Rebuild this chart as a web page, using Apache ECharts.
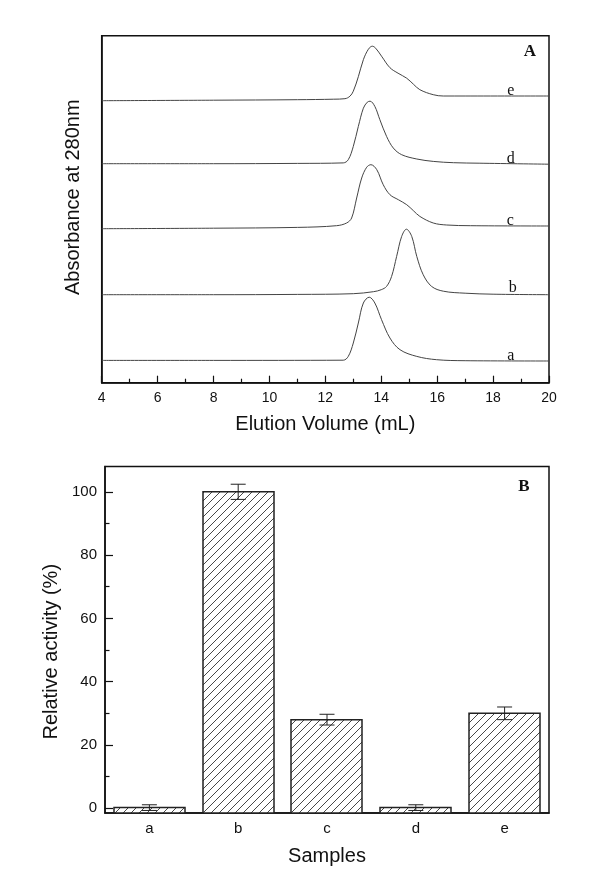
<!DOCTYPE html>
<html>
<head>
<meta charset="utf-8">
<script src="https://cdn.jsdelivr.net/npm/echarts@6/dist/echarts.min.js"></script>
<style>html,body{margin:0;padding:0;background:#fff}#c{width:600px;height:878px}</style>
</head>
<body>
<div id="c"></div>
<script>
// ---- Panel A: elution profiles (x = mL, y = absorbance, arbitrary offset units) ----
const elutionTicks = [4, 6, 8, 10, 12, 14, 16, 18, 20];
const curveA = [[4,22.3],[8,22.3],[12.64,22.5],[12.82,26.3],[13.0,39.7],[13.18,59.7],[13.36,79.7],[13.57,85.5],[13.77,79.7],[14.01,63],[14.31,44.7],[14.67,33],[15.27,26.3],[15.98,23],[17,22],[20,21.7]];
const curveB = [[4,88],[8,88],[11,88.3],[13.0,89],[13.72,91],[14.0,93],[14.19,96.3],[14.37,106.3],[14.55,126.3],[14.73,146.3],[14.9,153.5],[15.09,146.3],[15.27,126.3],[15.5,108],[15.8,96.3],[16.22,91.5],[17,89.5],[18,88.5],[20,88]];
const curveC = [[4,154],[8,154.5],[11,155.3],[12.4,157],[12.76,159.7],[12.94,164.7],[13.12,184.7],[13.3,204.7],[13.48,215.5],[13.63,218],[13.84,213],[14.07,198],[14.31,188],[14.61,183],[14.91,178],[15.15,172],[15.38,166.3],[15.86,159.7],[16.34,157.7],[17.2,157],[20,156.7]];
const curveD = [[4,219],[8,219],[11,219.3],[12.64,219.8],[12.82,223],[13.0,236.3],[13.18,256.3],[13.36,274.5],[13.5,280.5],[13.6,281.5],[13.77,276.3],[13.95,263],[14.19,246.3],[14.43,234.7],[14.73,228],[15.27,223.7],[15.86,221.3],[16.58,220],[17.5,219.5],[20,218.5]];
const curveE = [[4,282],[8,282.5],[11,283],[12.3,283.5],[12.7,284],[12.88,286.5],[13.0,291.5],[13.18,306],[13.36,323],[13.54,333.5],[13.68,336.5],[13.8,334.5],[14.01,326.5],[14.31,315],[14.6,309.5],[14.91,304.5],[15.15,298.5],[15.38,293],[15.86,288],[16.22,286.7],[17,286.7],[20,286.7]];
const curveNames = ['a', 'b', 'c', 'd', 'e'];

// ---- Panel B: relative activity ----
const samples = ['a', 'b', 'c', 'd', 'e'];
const activity = [0.2, 100, 28, 0.2, 30];
const activityErr = [0.9, 2.4, 1.7, 0.9, 2.0];
const activityTicks = [0, 20, 40, 60, 80, 100];
const activityMinorTicks = [10, 30, 50, 70, 90];

const SANS = 'Liberation Sans, Arial, sans-serif';
const SERIF = 'Liberation Serif, Times New Roman, serif';
const B_MIN = -1.5, B_MAX = 108;

function hatchCanvas() {
  const c = document.createElement('canvas');
  c.width = 8; c.height = 8;
  const g = c.getContext('2d');
  g.fillStyle = '#fff'; g.fillRect(0, 0, 8, 8);
  g.strokeStyle = '#333'; g.lineWidth = 0.9;
  g.beginPath();
  g.moveTo(-1, 9); g.lineTo(9, -1);
  g.moveTo(-3, 3); g.lineTo(3, -3);
  g.moveTo(5, 11); g.lineTo(11, 5);
  g.stroke();
  return c;
}
const hatch = hatchCanvas();

const chart = echarts.init(document.getElementById('c'), null, {renderer: 'canvas'});

const curves = [curveA, curveB, curveC, curveD, curveE];
const lineSeries = curves.map((d, i) => ({
  type: 'line', name: curveNames[i], xAxisIndex: 0, yAxisIndex: 0,
  data: d, smooth: 0.35, showSymbol: false, silent: true,
  lineStyle: {color: '#444', width: 1}
}));

const option = {
  backgroundColor: '#fff',
  animation: false,
  grid: [
    {left: 101.7, top: 35.7, width: 447.3, height: 347, show: true, borderColor: '#111', borderWidth: 1.5, backgroundColor: 'transparent'},
    {left: 105, top: 466.5, width: 444, height: 346.5, show: true, borderColor: '#111', borderWidth: 1.5, backgroundColor: 'transparent'}
  ],
  xAxis: [
    {type: 'value', gridIndex: 0, min: 4, max: 20, interval: 2,
     name: 'Elution Volume (mL)', nameLocation: 'middle', nameGap: 32,
     nameTextStyle: {fontFamily: SANS, fontSize: 20, color: '#111'},
     axisLine: {show: true, onZero: false, lineStyle: {color: '#111', width: 1.5}},
     axisTick: {show: true, inside: true, length: 7, lineStyle: {color: '#111', width: 1.2}},
     minorTick: {show: true, splitNumber: 2, length: 4, lineStyle: {color: '#111', width: 1.2}},
     axisLabel: {fontFamily: SANS, fontSize: 14, color: '#111', margin: 8, customValues: elutionTicks},
     splitLine: {show: false}},
    {type: 'category', gridIndex: 1, data: samples, boundaryGap: true,
     name: 'Samples', nameLocation: 'middle', nameGap: 33,
     nameTextStyle: {fontFamily: SANS, fontSize: 20, color: '#111'},
     axisLine: {show: true, onZero: false, lineStyle: {color: '#111', width: 1.5}},
     axisTick: {show: false},
     axisLabel: {fontFamily: SANS, fontSize: 15, color: '#111', margin: 8},
     splitLine: {show: false}}
  ],
  yAxis: [
    {type: 'value', gridIndex: 0, min: 0, max: 347,
     name: 'Absorbance at 280nm', nameLocation: 'middle', nameGap: 18.5, nameRotate: 90,
     nameTextStyle: {fontFamily: SANS, fontSize: 20, color: '#111', padding: [0, 0, 0, 24]},
     axisLine: {show: true, onZero: false, lineStyle: {color: '#111', width: 1.5}},
     axisTick: {show: false}, axisLabel: {show: false}, splitLine: {show: false}},
    {type: 'value', gridIndex: 1, min: B_MIN, max: B_MAX,
     name: 'Relative activity (%)', nameLocation: 'middle', nameGap: 40, nameRotate: 90,
     nameTextStyle: {fontFamily: SANS, fontSize: 20, color: '#111', padding: [0, 24, 0, 0]},
     axisLine: {show: true, onZero: false, lineStyle: {color: '#111', width: 1.5}},
     axisTick: {show: true, inside: true, length: 8, customValues: activityTicks, lineStyle: {color: '#111', width: 1.2}},
     axisLabel: {fontFamily: SANS, fontSize: 15, color: '#111', margin: 8, customValues: activityTicks},
     splitLine: {show: false}},
    {type: 'value', gridIndex: 1, min: B_MIN, max: B_MAX, position: 'left',
     axisLine: {show: false, onZero: false},
     axisTick: {show: true, inside: true, length: 4.5, customValues: activityMinorTicks, lineStyle: {color: '#111', width: 1.2}},
     axisLabel: {show: false}, splitLine: {show: false}}
  ],
  series: lineSeries.concat([
    {type: 'custom', xAxisIndex: 1, yAxisIndex: 1, silent: true,
     data: samples.map((s, i) => [i, activity[i]]),
     renderItem: function (params, api) {
       const i = api.value(0), v = api.value(1);
       const top = api.coord([i, v]);
       const base = api.coord([i, B_MIN]);
       const w = api.size([1, 0])[0] * 0.8;
       return {type: 'rect',
         shape: {x: Math.round(top[0] - w / 2), y: top[1], width: Math.round(w), height: base[1] - top[1]},
         style: {fill: {type: 'pattern', image: hatch, repeat: 'repeat'}, stroke: '#222', lineWidth: 1.5}};
     }},
    {type: 'custom', xAxisIndex: 1, yAxisIndex: 1, silent: true, z: 5,
     data: samples.map((s, i) => [i, activity[i], activityErr[i]]),
     renderItem: function (params, api) {
       const i = api.value(0), v = api.value(1), e = api.value(2);
       const hi = api.coord([i, v + e]);
       const lo = api.coord([i, v - e]);
       const cap = 7.5;
       const st = {stroke: '#222', lineWidth: 1};
       return {type: 'group', children: [
         {type: 'line', shape: {x1: hi[0], y1: hi[1], x2: lo[0], y2: lo[1]}, style: st},
         {type: 'line', shape: {x1: hi[0] - cap, y1: hi[1], x2: hi[0] + cap, y2: hi[1]}, style: st},
         {type: 'line', shape: {x1: lo[0] - cap, y1: lo[1], x2: lo[0] + cap, y2: lo[1]}, style: st}
       ]};
     }}
  ]),
  graphic: [
    {type: 'text', x: 530, y: 51.7, style: {text: 'A', font: 'bold 17px ' + SERIF, fill: '#111', textAlign: 'center', textVerticalAlign: 'middle'}},
    {type: 'text', x: 524, y: 486.7, style: {text: 'B', font: 'bold 17px ' + SERIF, fill: '#111', textAlign: 'center', textVerticalAlign: 'middle'}},
    {type: 'text', x: 510.7, y: 90.7, style: {text: 'e', font: '16px ' + SERIF, fill: '#111', textAlign: 'center', textVerticalAlign: 'middle'}},
    {type: 'text', x: 510.7, y: 158.5, style: {text: 'd', font: '16px ' + SERIF, fill: '#111', textAlign: 'center', textVerticalAlign: 'middle'}},
    {type: 'text', x: 510.3, y: 220.5, style: {text: 'c', font: '16px ' + SERIF, fill: '#111', textAlign: 'center', textVerticalAlign: 'middle'}},
    {type: 'text', x: 512.7, y: 287.3, style: {text: 'b', font: '16px ' + SERIF, fill: '#111', textAlign: 'center', textVerticalAlign: 'middle'}},
    {type: 'text', x: 510.7, y: 355.5, style: {text: 'a', font: '16px ' + SERIF, fill: '#111', textAlign: 'center', textVerticalAlign: 'middle'}}
  ]
};
chart.setOption(option);
</script>
</body>
</html>
